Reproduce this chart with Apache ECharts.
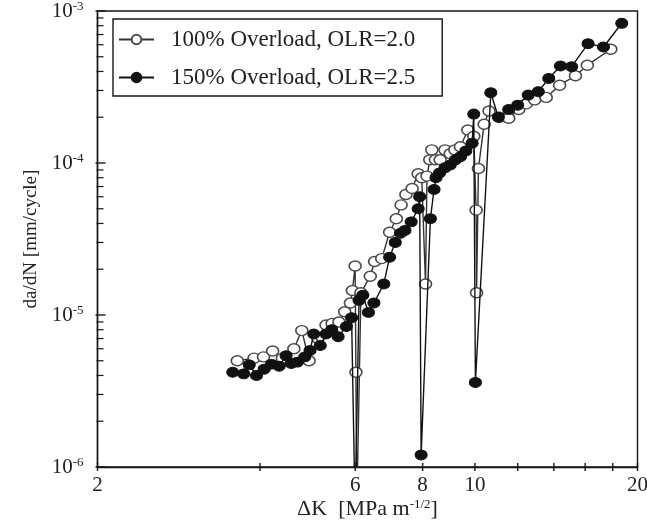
<!DOCTYPE html>
<html>
<head>
<meta charset="utf-8">
<title>Crack growth rate under overloads</title>
<script src="https://cdn.jsdelivr.net/npm/echarts@6/dist/echarts.min.js"></script>
<style>
  html, body { margin: 0; padding: 0; background: #ffffff; }
  #chart { width: 647px; height: 522px; }
</style>
</head>
<body>
<div id="chart"></div>
<script>
// Series names
const nameA = '100% Overload, OLR=2.0';
const nameB = '150% Overload, OLR=2.5';

// [ΔK (MPa m^-1/2), da/dN (mm/cycle)]
const overload100 = [
  [3.63, 5.0e-6], [3.90, 5.2e-6], [4.06, 5.3e-6], [4.22, 5.8e-6], [4.40, 5.2e-6],
  [4.62, 6.0e-6], [4.78, 7.9e-6], [4.93, 5.0e-6], [5.12, 7.0e-6], [5.30, 8.6e-6],
  [5.44, 8.8e-6], [5.60, 9.0e-6], [5.74, 1.05e-5], [5.88, 1.2e-5], [5.93, 1.45e-5],
  [6.00, 2.1e-5], [6.02, 4.2e-6], [6.04, 5.0e-7], [6.15, 1.4e-5], [6.40, 1.8e-5],
  [6.52, 2.25e-5], [6.72, 2.35e-5], [6.95, 3.5e-5], [7.15, 4.3e-5], [7.30, 5.3e-5],
  [7.45, 6.2e-5], [7.65, 6.8e-5], [7.85, 8.5e-5], [7.97, 8.0e-5], [8.10, 1.6e-5],
  [8.15, 8.2e-5], [8.25, 1.05e-4], [8.32, 1.22e-4], [8.45, 1.05e-4], [8.62, 1.05e-4],
  [8.80, 1.22e-4], [9.00, 1.15e-4], [9.18, 1.22e-4], [9.40, 1.28e-4], [9.70, 1.65e-4],
  [9.95, 1.5e-4], [10.05, 4.9e-5], [10.07, 1.4e-5], [10.15, 9.2e-5], [10.40, 1.8e-4],
  [10.62, 2.2e-4], [11.10, 2.0e-4], [11.55, 1.97e-4], [12.05, 2.25e-4], [12.45, 2.45e-4],
  [12.90, 2.6e-4], [13.55, 2.7e-4], [14.35, 3.25e-4], [15.35, 3.75e-4], [16.15, 4.4e-4],
  [17.85, 5.6e-4]
];

const overload150 = [
  [3.56, 4.2e-6], [3.73, 4.1e-6], [3.82, 4.7e-6], [3.94, 4.0e-6], [4.07, 4.4e-6],
  [4.20, 4.75e-6], [4.34, 4.6e-6], [4.47, 5.4e-6], [4.57, 4.8e-6], [4.69, 4.9e-6],
  [4.84, 5.3e-6], [4.95, 5.85e-6], [5.03, 7.5e-6], [5.17, 6.3e-6], [5.30, 7.5e-6],
  [5.43, 8.0e-6], [5.58, 7.2e-6], [5.78, 8.4e-6], [5.91, 9.6e-6], [6.00, 5.0e-7],
  [6.10, 1.25e-5], [6.20, 1.35e-5], [6.35, 1.04e-5], [6.50, 1.2e-5], [6.78, 1.6e-5],
  [6.95, 2.4e-5], [7.12, 3.0e-5], [7.28, 3.45e-5], [7.42, 3.6e-5], [7.62, 4.1e-5],
  [7.85, 5.0e-5], [7.90, 6.0e-5], [7.95, 1.2e-6], [8.27, 4.3e-5], [8.40, 6.7e-5],
  [8.47, 8.0e-5], [8.60, 8.6e-5], [8.80, 9.3e-5], [9.00, 9.7e-5], [9.20, 1.05e-4],
  [9.40, 1.1e-4], [9.62, 1.2e-4], [9.88, 1.35e-4], [9.95, 2.1e-4], [10.02, 3.6e-6],
  [10.70, 2.9e-4], [11.05, 2.0e-4], [11.55, 2.25e-4], [12.00, 2.4e-4], [12.55, 2.8e-4],
  [13.10, 2.95e-4], [13.70, 3.6e-4], [14.40, 4.35e-4], [15.10, 4.3e-4], [16.20, 6.1e-4],
  [17.30, 5.8e-4], [18.70, 8.3e-4]
];

// Axis ranges and ticks
const K_MIN = 2, K_MAX = 20;
const R_MIN = 1e-6, R_MAX = 1e-3;
const xTickValues = [2, 4, 6, 8, 10, 12, 14, 16, 18, 20];
const xTickLabels = [2, 6, 8, 10, 20];
const yMajorTicks = [1e-6, 1e-5, 1e-4, 1e-3];
const yMinorDecades = [1e-6, 1e-5, 1e-4];
const yMinorFactors = [2, 3, 4, 5, 6, 7, 8, 9];

const SERIF = '"Liberation Serif", "Times New Roman", Times, serif';
const INK = '#161616';
const TEXT = '#222222';

const yMinorTicks = [];
yMinorDecades.forEach(d => yMinorFactors.forEach(f => yMinorTicks.push([K_MIN, d * f])));

// Small filled bar used as a tick mark, placed through the axis scales
function tickMark(dx, dy, w, h) {
  return (params, api) => {
    const p = api.coord([api.value(0), api.value(1)]);
    return {
      type: 'rect',
      shape: { x: p[0] + dx, y: p[1] + dy, width: w, height: h },
      style: { fill: INK }
    };
  };
}

function tickSeries(data, renderItem) {
  return {
    type: 'custom', coordinateSystem: 'cartesian2d',
    silent: true, clip: false, z: 5,
    data: data, renderItem: renderItem
  };
}

const chart = echarts.init(document.getElementById('chart'), null, { renderer: 'canvas' });

chart.setOption({
  animation: false,
  backgroundColor: '#ffffff',
  grid: {
    left: 97.5, right: 9.5, top: 11, bottom: 55,
    containLabel: false, outerBoundsMode: 'none',
    show: true, borderColor: INK, borderWidth: 1.4, backgroundColor: 'transparent'
  },
  legend: {
    data: [nameA, nameB],
    orient: 'vertical',
    left: 113, top: 19,
    padding: [9, 27, 7, 5],
    itemGap: 15,
    itemWidth: 35, itemHeight: 12,
    borderColor: INK, borderWidth: 1.4,
    backgroundColor: '#ffffff',
    selectedMode: false,
    textStyle: { fontFamily: SERIF, fontSize: 23, color: TEXT, padding: [0, 0, 0, 12] }
  },
  xAxis: {
    type: 'log', logBase: 10, min: K_MIN, max: K_MAX,
    axisLine: { show: true, lineStyle: { color: INK, width: 1.4 } },
    axisTick: { show: false },
    axisLabel: { show: false },
    splitLine: { show: false },
    name: 'ΔK  [MPa m{s|-1/2}]',
    nameLocation: 'middle', nameGap: 31,
    nameTextStyle: {
      fontFamily: SERIF, fontSize: 22, color: TEXT,
      rich: { s: { fontFamily: SERIF, fontSize: 13, color: TEXT, verticalAlign: 'top' } }
    }
  },
  yAxis: {
    type: 'log', logBase: 10, min: R_MIN, max: R_MAX,
    axisLine: { show: true, lineStyle: { color: INK, width: 1.4 } },
    axisTick: { show: false },
    splitLine: { show: false },
    axisLabel: {
      margin: 14,
      formatter: v => '{b|10}{s|' + Math.round(Math.log10(v)) + '}',
      rich: {
        b: { fontFamily: SERIF, fontSize: 21, color: TEXT },
        s: { fontFamily: SERIF, fontSize: 13, color: TEXT, verticalAlign: 'top' }
      }
    },
    name: 'da/dN [mm/cycle]',
    nameLocation: 'middle', nameRotate: 90, nameGap: 56,
    nameTextStyle: { fontFamily: SERIF, fontSize: 19, color: TEXT }
  },
  series: [
    {
      name: nameA, type: 'line', data: overload100,
      symbol: 'circle', symbolSize: [12, 10], showSymbol: true,
      lineStyle: { color: '#333333', width: 1.4 },
      itemStyle: { color: '#ffffff', borderColor: '#4a4a4a', borderWidth: 1.5 },
      emphasis: { disabled: true },
      clip: true, z: 2
    },
    {
      name: nameB, type: 'line', data: overload150,
      symbol: 'circle', symbolSize: [12, 10], showSymbol: true,
      lineStyle: { color: '#111111', width: 1.4 },
      itemStyle: { color: '#111111', borderColor: '#111111', borderWidth: 1 },
      emphasis: { disabled: true },
      clip: true, z: 3
    },
    // x-axis ticks crossing the bottom axis line
    tickSeries(xTickValues.map(k => [k, R_MIN]), tickMark(-0.7, -4, 1.4, 8)),
    // y-axis decade ticks, pointing inward
    tickSeries(yMajorTicks.map(r => [K_MIN, r]), tickMark(-2, -0.7, 10, 1.4)),
    // y-axis minor ticks
    tickSeries(yMinorTicks, tickMark(-1, -0.6, 7, 1.2)),
    {
      // x-axis tick labels
      type: 'custom', coordinateSystem: 'cartesian2d', silent: true, clip: false, z: 5,
      data: xTickLabels.map(k => [k, R_MIN]),
      renderItem: (params, api) => {
        const p = api.coord([api.value(0), api.value(1)]);
        return {
          type: 'text', x: p[0], y: p[1] + 18,
          style: {
            text: String(api.value(0)), fontFamily: SERIF, fontSize: 21, fill: TEXT,
            align: 'center', verticalAlign: 'middle'
          }
        };
      }
    }
  ]
});
</script>
</body>
</html>
